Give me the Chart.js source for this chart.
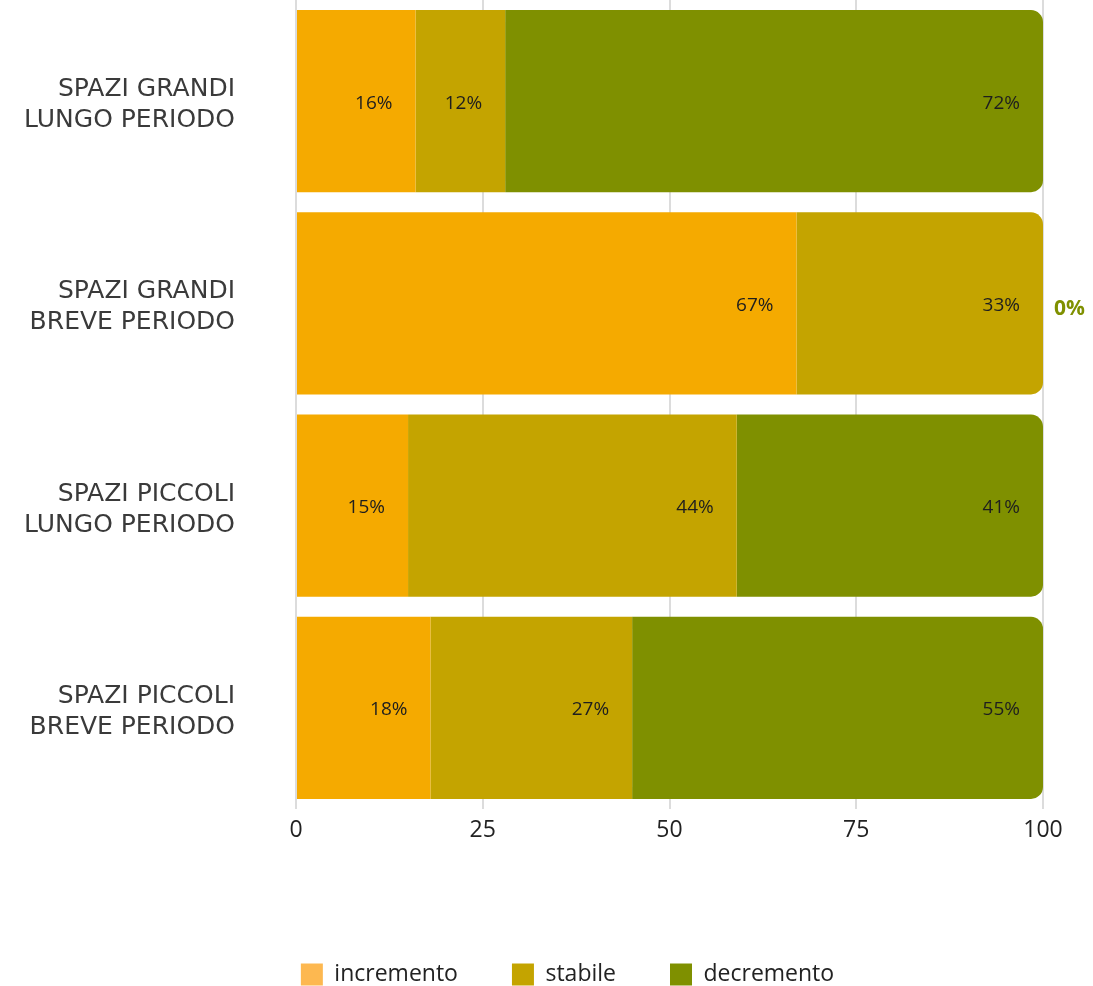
<!DOCTYPE html>
<html>
<head>
<meta charset="utf-8">
<script src="https://cdn.jsdelivr.net/npm/chart.js@4"></script>
<style>
  html, body { margin: 0; padding: 0; background: #fff; }
  #wrap { width: 1093px; height: 986px; }
</style>
</head>
<body>
<div id="wrap"><canvas id="chart" width="1093" height="986"></canvas></div>
<script>
const categories = [
    ['SPAZI GRANDI', 'LUNGO PERIODO'],
    ['SPAZI GRANDI', 'BREVE PERIODO'],
    ['SPAZI PICCOLI', 'LUNGO PERIODO'],
    ['SPAZI PICCOLI', 'BREVE PERIODO']
];
const seriesNames = ['incremento', 'stabile', 'decremento'];
const incremento = [16, 67, 15, 18];
const stabile = [12, 33, 44, 27];
const decremento = [72, 0, 41, 55];
const xTicks = [0, 25, 50, 75, 100];

const barColors = ['#F5AA00', '#C4A400', '#7F9000'];
const legendColors = ['#FDB850', '#C4A400', '#7F9000'];
const FONT = '"Open Sans", sans-serif';
const LABEL_FONT = '"DejaVu Sans", sans-serif';

// round only the right end of the last visible segment
function radius(ctx) {
    const row = ctx.dataIndex;
    const all = ctx.chart.data.datasets;
    let last = -1;
    all.forEach(function(ds, i) { if (ds.data[row] > 0) last = i; });
    if (ctx.datasetIndex === last) {
        return { topLeft: 0, bottomLeft: 0, topRight: 12, bottomRight: 12 };
    }
    return 0;
}

const valueLabels = {
    id: 'valueLabels',
    afterLayout(chart) {
        // nudge the legend to where it sits in the original
        const lg = chart.legend;
        lg.left += 46; lg.right += 46;
        lg.top += 10; lg.bottom += 10;
    },
    afterDatasetsDraw(chart) {
        const c = chart.ctx;
        c.save();
        c.textBaseline = 'middle';
        chart.data.datasets.forEach(function(ds, i) {
            const meta = chart.getDatasetMeta(i);
            meta.data.forEach(function(bar, j) {
                const v = ds.data[j];
                if (v > 0) {
                    c.font = '400 19px ' + FONT;
                    c.fillStyle = '#1e1e1e';
                    c.textAlign = 'right';
                    c.fillText(v + '%', bar.x - 23, bar.y + 2);
                } else {
                    c.font = '700 21px ' + FONT;
                    c.fillStyle = barColors[i];
                    c.textAlign = 'left';
                    c.fillText(v + '%', bar.x + 11, bar.y + 6);
                }
            });
        });
        c.restore();
    }
};

const data = {
    labels: categories,
    datasets: [incremento, stabile, decremento].map(function(vals, i) {
        return {
            label: seriesNames[i],
            data: vals,
            backgroundColor: barColors[i],
            borderWidth: 0,
            borderSkipped: false,
            borderRadius: radius,
            barPercentage: 0.9,
            categoryPercentage: 1
        };
    })
};

new Chart(document.getElementById('chart').getContext('2d'), {
    type: 'bar',
    data: data,
    plugins: [valueLabels],
    options: {
        indexAxis: 'y',
        responsive: false,
        animation: false,
        layout: { padding: { top: 0, right: 50, bottom: 0, left: 0 } },
        plugins: {
            tooltip: { enabled: false },
            legend: {
                position: 'bottom',
                labels: {
                    font: { family: FONT, size: 23 },
                    color: '#222',
                    boxWidth: 22,
                    boxHeight: 22,
                    padding: 54,
                    generateLabels: function(chart) {
                        return chart.data.datasets.map(function(ds, i) {
                            return {
                                text: ds.label,
                                fillStyle: legendColors[i],
                                strokeStyle: legendColors[i],
                                lineWidth: 0,
                                fontColor: '#222',
                                datasetIndex: i
                            };
                        });
                    }
                }
            }
        },
        scales: {
            x: {
                stacked: true,
                min: 0,
                max: 100,
                afterBuildTicks: function(axis) {
                    axis.ticks = xTicks.map(function(v) { return { value: v }; });
                },
                afterFit: function(axis) { axis.height = 90; },
                grid: { color: '#dcdcdc', lineWidth: 2, drawTicks: false },
                border: { display: false },
                ticks: {
                    font: { family: FONT, size: 23 },
                    color: '#222',
                    padding: 8
                }
            },
            y: {
                stacked: true,
                afterFit: function(axis) {
                    axis.width = 296;
                    axis.paddingTop = 0;
                    axis.paddingBottom = 0;
                },
                grid: { display: false },
                border: { display: false },
                ticks: {
                    font: { family: LABEL_FONT, size: 25, lineHeight: 1.24 },
                    color: '#3a3a3a',
                    padding: 53,
                    labelOffset: 4
                }
            }
        }
    }
});
</script>
</body>
</html>
